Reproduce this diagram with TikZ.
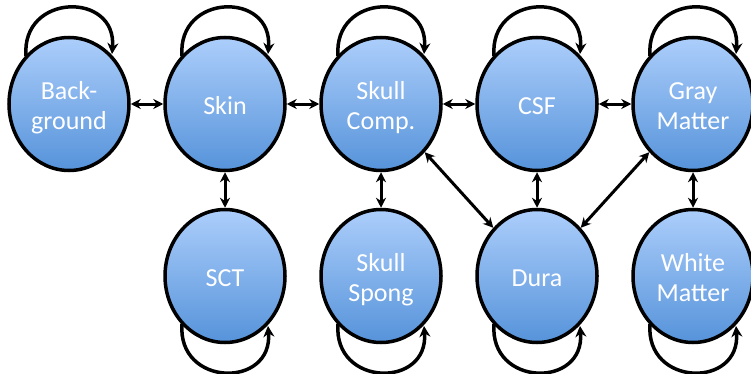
\documentclass[tikz,border=0pt]{standalone}
\usepackage{fontspec}
\setmainfont{Carlito}
\usetikzlibrary{shapes.geometric,arrows.meta}
\definecolor{topblue}{RGB}{172,206,251}
\definecolor{botblue}{RGB}{86,147,218}
\newcommand\lowtxt[1]{\raisebox{-4pt}[\height][\depth]{\begin{tabular}{@{}c@{}}#1\end{tabular}}}
\begin{document}
\begin{tikzpicture}[x=1pt,y=1pt,
  state/.style={ellipse, draw=black, line width=3.5pt, minimum width=120pt, minimum height=133pt, inner sep=0pt, top color=topblue, bottom color=botblue, text=white, font=\fontsize{26}{30}\selectfont},
  link/.style={{Stealth[length=10pt,width=10pt]}-{Stealth[length=10pt,width=10pt]}, line width=3pt},
  selfloop/.style={-{Stealth[length=11pt,width=11pt]}, line width=3.5pt}]
\useasboundingbox (0,0) rectangle (751,373);
\node[state] (bg)   at (69,269)  {\lowtxt{Back-\\ground}};
\node[state] (skin) at (225,269) {\lowtxt{Skin}};
\node[state] (sc)   at (381,269) {\lowtxt{Skull\\Comp.}};
\node[state] (csf)  at (537,269) {\lowtxt{CSF}};
\node[state] (gm)   at (693,269) {\lowtxt{Gray\\Matter}};
\node[state] (sct)  at (225,97)  {\lowtxt{SCT}};
\node[state] (ss)   at (381,97)  {\lowtxt{Skull\\Spong}};
\node[state] (dura) at (537,97)  {\lowtxt{Dura}};
\node[state] (wm)   at (693,97)  {\lowtxt{White\\Matter}};
\draw[link] (bg) -- (skin);
\draw[link] (skin) -- (sc);
\draw[link] (sc) -- (csf);
\draw[link] (csf) -- (gm);
\draw[link] (skin) -- (sct);
\draw[link] (sc) -- (ss);
\draw[link] (csf) -- (dura);
\draw[link] (gm) -- (wm);
\draw[link] (sc) -- (dura);
\draw[link] (gm) -- (dura);
\foreach \n in {bg,skin,sc,csf,gm}
  \draw[selfloop] ([shift={(-43,48)}]\n.center) .. controls +(-5,63) and +(5,63) .. ([shift={(43,50)}]\n.center);
\foreach \n in {sct,ss,dura,wm}
  \draw[selfloop] ([shift={(-43,-48)}]\n.center) .. controls +(-5,-63) and +(5,-63) .. ([shift={(43,-50)}]\n.center);
\end{tikzpicture}
\end{document}
